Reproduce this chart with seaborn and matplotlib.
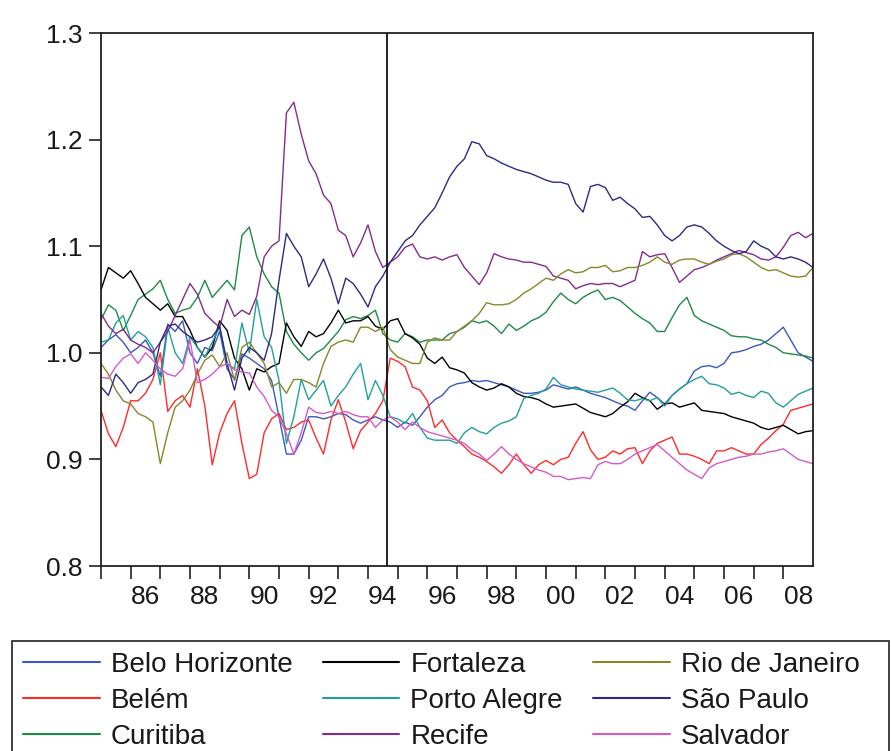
import numpy as np
import pandas as pd
import matplotlib
matplotlib.use("Agg")
import matplotlib.pyplot as plt
from matplotlib.patches import Rectangle
import seaborn as sns

# Quarterly observations, 1985Q1 .. 2009Q1
YEARS = 1985 + np.arange(97) / 4.0

BELO_HORIZONTE = [
    1.005, 1.012, 1.017, 1.010,  # 1985
    1.000, 1.005, 1.012, 1.000,  # 1986
    0.978, 1.027, 1.020, 1.030,  # 1987
    1.000, 0.990, 1.005, 1.002,  # 1988
    1.020, 0.985, 0.975, 0.999,  # 1989
    0.995, 0.990, 0.985, 0.974,  # 1990
    0.940, 0.905, 0.905, 0.918,  # 1991
    0.940, 0.940, 0.938, 0.940,  # 1992
    0.943, 0.942, 0.937, 0.934,  # 1993
    0.937, 0.940, 0.937, 0.935,  # 1994
    0.930, 0.935, 0.932, 0.940,  # 1995
    0.949, 0.956, 0.960, 0.968,  # 1996
    0.971, 0.972, 0.974, 0.973,  # 1997
    0.974, 0.972, 0.970, 0.968,  # 1998
    0.965, 0.962, 0.962, 0.963,  # 1999
    0.965, 0.970, 0.968, 0.966,  # 2000
    0.968, 0.965, 0.962, 0.960,  # 2001
    0.958, 0.955, 0.952, 0.950,  # 2002
    0.946, 0.955, 0.963, 0.958,  # 2003
    0.952, 0.960, 0.966, 0.971,  # 2004
    0.983, 0.987, 0.988, 0.986,  # 2005
    0.990, 1.000, 1.001, 1.003,  # 2006
    1.006, 1.008, 1.012, 1.018,  # 2007
    1.024, 1.012, 1.000, 0.996,  # 2008
    0.992,
]

BELEM = [
    0.946, 0.924, 0.912, 0.930,  # 1985
    0.955, 0.955, 0.962, 0.975,  # 1986
    1.000, 0.945, 0.955, 0.960,  # 1987
    0.949, 0.985, 0.950, 0.895,  # 1988
    0.925, 0.943, 0.955, 0.915,  # 1989
    0.882, 0.886, 0.925, 0.938,  # 1990
    0.943, 0.928, 0.930, 0.935,  # 1991
    0.937, 0.920, 0.905, 0.937,  # 1992
    0.956, 0.935, 0.910, 0.927,  # 1993
    0.935, 0.943, 0.955, 0.995,  # 1994
    0.992, 0.987, 0.968, 0.965,  # 1995
    0.955, 0.930, 0.937, 0.925,  # 1996
    0.918, 0.912, 0.905, 0.902,  # 1997
    0.898, 0.893, 0.887, 0.895,  # 1998
    0.905, 0.895, 0.887, 0.895,  # 1999
    0.899, 0.895, 0.900, 0.902,  # 2000
    0.915, 0.926, 0.909, 0.900,  # 2001
    0.902, 0.908, 0.905, 0.910,  # 2002
    0.911, 0.896, 0.908, 0.915,  # 2003
    0.918, 0.921, 0.905, 0.905,  # 2004
    0.903, 0.900, 0.896, 0.908,  # 2005
    0.908, 0.911, 0.908, 0.905,  # 2006
    0.905, 0.914, 0.920, 0.927,  # 2007
    0.933, 0.946, 0.948, 0.950,  # 2008
    0.952,
]

CURITIBA = [
    1.031, 1.045, 1.040, 1.021,  # 1985
    1.035, 1.050, 1.055, 1.060,  # 1986
    1.068, 1.050, 1.037, 1.040,  # 1987
    1.042, 1.052, 1.068, 1.052,  # 1988
    1.060, 1.068, 1.059, 1.110,  # 1989
    1.118, 1.090, 1.074, 1.062,  # 1990
    1.056, 1.020, 1.008, 1.000,  # 1991
    0.993, 1.000, 1.004, 1.012,  # 1992
    1.020, 1.031, 1.034, 1.032,  # 1993
    1.035, 1.040, 1.018, 1.012,  # 1994
    1.010, 1.018, 1.015, 1.010,  # 1995
    1.012, 1.012, 1.012, 1.018,  # 1996
    1.020, 1.024, 1.030, 1.028,  # 1997
    1.030, 1.025, 1.018, 1.027,  # 1998
    1.021, 1.025, 1.030, 1.033,  # 1999
    1.038, 1.048, 1.056, 1.050,  # 2000
    1.046, 1.052, 1.056, 1.059,  # 2001
    1.050, 1.052, 1.049, 1.043,  # 2002
    1.037, 1.032, 1.028, 1.020,  # 2003
    1.020, 1.033, 1.045, 1.052,  # 2004
    1.035, 1.030, 1.027, 1.024,  # 2005
    1.021, 1.016, 1.015, 1.015,  # 2006
    1.013, 1.012, 1.008, 1.005,  # 2007
    1.000, 0.999, 0.998, 0.997,  # 2008
    0.995,
]

FORTALEZA = [
    1.059, 1.080, 1.075, 1.070,  # 1985
    1.077, 1.065, 1.052, 1.046,  # 1986
    1.040, 1.046, 1.034, 1.034,  # 1987
    1.021, 1.005, 0.996, 1.005,  # 1988
    1.030, 1.021, 0.995, 0.985,  # 1989
    0.965, 0.985, 0.982, 0.987,  # 1990
    0.990, 1.028, 1.015, 1.006,  # 1991
    1.020, 1.015, 1.018, 1.028,  # 1992
    1.040, 1.028, 1.030, 1.030,  # 1993
    1.034, 1.025, 1.022, 1.030,  # 1994
    1.032, 1.018, 1.014, 1.008,  # 1995
    0.995, 0.990, 0.996, 0.986,  # 1996
    0.984, 0.981, 0.972, 0.968,  # 1997
    0.965, 0.967, 0.971, 0.968,  # 1998
    0.962, 0.959, 0.958, 0.956,  # 1999
    0.952, 0.949, 0.950, 0.951,  # 2000
    0.952, 0.948, 0.944, 0.942,  # 2001
    0.940, 0.943, 0.949, 0.954,  # 2002
    0.962, 0.958, 0.955, 0.947,  # 2003
    0.952, 0.953, 0.949, 0.951,  # 2004
    0.953, 0.946, 0.945, 0.944,  # 2005
    0.943, 0.940, 0.938, 0.936,  # 2006
    0.934, 0.930, 0.928, 0.930,  # 2007
    0.932, 0.928, 0.924, 0.926,  # 2008
    0.927,
]

PORTO_ALEGRE = [
    1.010, 1.012, 1.028, 1.035,  # 1985
    1.012, 1.020, 1.015, 1.005,  # 1986
    0.970, 1.024, 1.000, 0.990,  # 1987
    1.015, 1.005, 0.996, 1.010,  # 1988
    1.024, 0.990, 0.985, 1.028,  # 1989
    1.000, 1.050, 1.015, 1.005,  # 1990
    0.974, 0.915, 0.940, 0.975,  # 1991
    0.956, 0.965, 0.974, 0.950,  # 1992
    0.960, 0.968, 0.980, 0.990,  # 1993
    0.956, 0.974, 0.960, 0.940,  # 1994
    0.938, 0.934, 0.943, 0.930,  # 1995
    0.920, 0.918, 0.918, 0.918,  # 1996
    0.915, 0.925, 0.930, 0.926,  # 1997
    0.924, 0.930, 0.934, 0.936,  # 1998
    0.940, 0.957, 0.960, 0.962,  # 1999
    0.966, 0.977, 0.970, 0.968,  # 2000
    0.966, 0.965, 0.964, 0.963,  # 2001
    0.965, 0.967, 0.962, 0.956,  # 2002
    0.955, 0.957, 0.955, 0.958,  # 2003
    0.950, 0.960, 0.966, 0.971,  # 2004
    0.975, 0.978, 0.971, 0.970,  # 2005
    0.967, 0.961, 0.963, 0.960,  # 2006
    0.958, 0.964, 0.962, 0.953,  # 2007
    0.949, 0.955, 0.961, 0.964,  # 2008
    0.967,
]

RECIFE = [
    1.037, 1.025, 1.018, 1.022,  # 1985
    1.012, 1.008, 1.005, 1.000,  # 1986
    1.010, 1.020, 1.035, 1.050,  # 1987
    1.065, 1.055, 1.037, 1.030,  # 1988
    1.024, 1.050, 1.034, 1.040,  # 1989
    1.036, 1.053, 1.090, 1.100,  # 1990
    1.105, 1.225, 1.235, 1.205,  # 1991
    1.180, 1.168, 1.148, 1.140,  # 1992
    1.115, 1.110, 1.090, 1.103,  # 1993
    1.120, 1.095, 1.080, 1.085,  # 1994
    1.090, 1.099, 1.102, 1.090,  # 1995
    1.088, 1.090, 1.087, 1.090,  # 1996
    1.092, 1.080, 1.072, 1.064,  # 1997
    1.075, 1.093, 1.090, 1.088,  # 1998
    1.087, 1.085, 1.085, 1.083,  # 1999
    1.081, 1.072, 1.070, 1.068,  # 2000
    1.060, 1.063, 1.065, 1.064,  # 2001
    1.065, 1.065, 1.062, 1.065,  # 2002
    1.068, 1.095, 1.090, 1.092,  # 2003
    1.093, 1.080, 1.066, 1.072,  # 2004
    1.078, 1.080, 1.083, 1.087,  # 2005
    1.090, 1.093, 1.096, 1.094,  # 2006
    1.092, 1.088, 1.087, 1.090,  # 2007
    1.099, 1.110, 1.113, 1.108,  # 2008
    1.112,
]

RIO_DE_JANEIRO = [
    0.990, 0.980, 0.965, 0.955,  # 1985
    0.952, 0.943, 0.940, 0.935,  # 1986
    0.896, 0.925, 0.949, 0.955,  # 1987
    0.965, 0.980, 0.993, 0.998,  # 1988
    0.987, 1.000, 0.974, 1.005,  # 1989
    1.010, 1.000, 0.990, 0.968,  # 1990
    0.972, 0.962, 0.975, 0.975,  # 1991
    0.972, 0.968, 0.990, 1.006,  # 1992
    1.010, 1.012, 1.010, 1.024,  # 1993
    1.024, 1.020, 1.024, 1.003,  # 1994
    0.996, 0.993, 0.990, 0.990,  # 1995
    1.010, 1.014, 1.012, 1.012,  # 1996
    1.020, 1.025, 1.030, 1.037,  # 1997
    1.047, 1.045, 1.045, 1.046,  # 1998
    1.050, 1.056, 1.060, 1.065,  # 1999
    1.070, 1.068, 1.074, 1.078,  # 2000
    1.075, 1.076, 1.080, 1.080,  # 2001
    1.082, 1.076, 1.077, 1.080,  # 2002
    1.080, 1.082, 1.085, 1.090,  # 2003
    1.085, 1.083, 1.087, 1.088,  # 2004
    1.088, 1.085, 1.083, 1.086,  # 2005
    1.088, 1.092, 1.093, 1.090,  # 2006
    1.085, 1.080, 1.077, 1.078,  # 2007
    1.075, 1.072, 1.071, 1.072,  # 2008
    1.080,
]

SAO_PAULO = [
    0.968, 0.960, 0.980, 0.972,  # 1985
    0.962, 0.972, 0.975, 0.980,  # 1986
    1.010, 1.025, 1.027, 1.020,  # 1987
    1.015, 1.010, 1.012, 1.015,  # 1988
    1.025, 0.990, 0.965, 0.995,  # 1989
    1.005, 1.000, 0.993, 1.018,  # 1990
    1.068, 1.112, 1.100, 1.090,  # 1991
    1.062, 1.074, 1.088, 1.070,  # 1992
    1.046, 1.070, 1.065, 1.055,  # 1993
    1.043, 1.062, 1.072, 1.085,  # 1994
    1.095, 1.105, 1.110, 1.120,  # 1995
    1.128, 1.136, 1.150, 1.165,  # 1996
    1.175, 1.182, 1.198, 1.196,  # 1997
    1.185, 1.182, 1.178, 1.175,  # 1998
    1.172, 1.170, 1.168, 1.165,  # 1999
    1.162, 1.160, 1.160, 1.158,  # 2000
    1.140, 1.132, 1.156, 1.158,  # 2001
    1.155, 1.143, 1.146, 1.140,  # 2002
    1.135, 1.127, 1.128, 1.120,  # 2003
    1.110, 1.105, 1.110, 1.118,  # 2004
    1.120, 1.118, 1.112, 1.105,  # 2005
    1.100, 1.096, 1.093, 1.095,  # 2006
    1.105, 1.100, 1.097, 1.090,  # 2007
    1.088, 1.090, 1.088, 1.085,  # 2008
    1.080,
]

SALVADOR = [
    0.977, 0.976, 0.987, 0.995,  # 1985
    0.999, 0.990, 1.000, 0.993,  # 1986
    0.985, 0.980, 0.978, 0.985,  # 1987
    1.012, 0.972, 0.975, 0.980,  # 1988
    0.987, 0.990, 0.984, 0.982,  # 1989
    0.981, 0.968, 0.959, 0.946,  # 1990
    0.940, 0.924, 0.905, 0.925,  # 1991
    0.949, 0.944, 0.943, 0.945,  # 1992
    0.943, 0.945, 0.942, 0.940,  # 1993
    0.940, 0.930, 0.937, 0.940,  # 1994
    0.935, 0.928, 0.935, 0.930,  # 1995
    0.926, 0.924, 0.922, 0.920,  # 1996
    0.918, 0.915, 0.909, 0.905,  # 1997
    0.899, 0.905, 0.912, 0.905,  # 1998
    0.900, 0.896, 0.893, 0.890,  # 1999
    0.888, 0.884, 0.884, 0.881,  # 2000
    0.882, 0.883, 0.882, 0.895,  # 2001
    0.898, 0.896, 0.896, 0.900,  # 2002
    0.905, 0.908, 0.911, 0.914,  # 2003
    0.908, 0.902, 0.896, 0.890,  # 2004
    0.886, 0.882, 0.892, 0.896,  # 2005
    0.898, 0.900, 0.902, 0.903,  # 2006
    0.905, 0.905, 0.907, 0.908,  # 2007
    0.910, 0.905, 0.900, 0.898,  # 2008
    0.896,
]

CITIES = ["Belo Horizonte", "Belém", "Curitiba", "Fortaleza", "Porto Alegre",
          "Recife", "Rio de Janeiro", "São Paulo", "Salvador"]
SERIES = [BELO_HORIZONTE, BELEM, CURITIBA, FORTALEZA, PORTO_ALEGRE,
          RECIFE, RIO_DE_JANEIRO, SAO_PAULO, SALVADOR]
COLORS = {
    "Belo Horizonte": "#3a58c0",
    "Belém": "#ff2a2a",
    "Curitiba": "#1f8a45",
    "Fortaleza": "#000000",
    "Porto Alegre": "#21a09a",
    "Recife": "#862a8c",
    "Rio de Janeiro": "#87872a",
    "São Paulo": "#2b2b86",
    "Salvador": "#d45ac8",
}
REAL_PLAN = 1994.625   # vertical marker line
X_LABEL_YEARS = list(range(1986, 2009, 2))
Y_TICKS = [0.8, 0.9, 1.0, 1.1, 1.2, 1.3]

df = pd.DataFrame({
    "t": np.tile(YEARS, len(CITIES)),
    "city": np.repeat(CITIES, len(YEARS)),
    "value": np.concatenate([np.asarray(s, dtype=float) for s in SERIES]),
})

sns.set_theme(style="white")
plt.rcParams["font.family"] = ["Liberation Sans", "DejaVu Sans"]
TXT = "#1a1a1a"

fig = plt.figure(figsize=(8.91, 7.51), dpi=100)
W, H = 891, 751
ax = fig.add_axes([101 / W, 1 - 566 / H, (813 - 101) / W, (566 - 33) / H])

sns.lineplot(data=df, x="t", y="value", hue="city", hue_order=CITIES,
             palette=COLORS, estimator=None, sort=False, linewidth=1.0, ax=ax)
handles, labels = ax.get_legend_handles_labels()
if ax.get_legend() is not None:
    ax.get_legend().remove()

ax.axvline(REAL_PLAN, color="#111111", lw=1.3, zorder=5)

ax.set_xlim(1985, 2009)
ax.set_ylim(0.8, 1.3)
ax.set_xlabel("")
ax.set_ylabel("")

ax.set_xticks(list(range(1985, 2009)))
ax.set_xticklabels([])
ax.set_xticks([y + 0.5 for y in X_LABEL_YEARS], minor=True)
ax.set_xticklabels([f"{y % 100:02d}" for y in X_LABEL_YEARS], minor=True)
ax.tick_params(axis="x", which="major", direction="out", length=9, width=1.2,
               color="#222222", bottom=True)
ax.tick_params(axis="x", which="minor", length=0, labelsize=19, pad=14,
               labelcolor=TXT, bottom=True)
ax.set_yticks(Y_TICKS)
ax.set_yticklabels([f"{v:.1f}" for v in Y_TICKS])
ax.tick_params(axis="y", direction="out", length=9, width=1.2, color="#222222",
               labelsize=19, pad=4, labelcolor=TXT, left=True)

for sp in ax.spines.values():
    sp.set_visible(True)
    sp.set_color("#222222")
    sp.set_linewidth(1.3)

# legend box: fixed-width frame like the source, running off the bottom edge
fig.patches.append(Rectangle((12 / W, -20 / H), (889 - 12) / W, (20 + 751 - 641) / H,
                             transform=fig.transFigure, facecolor="white",
                             edgecolor="#333333", linewidth=1.3, zorder=1))
leg = fig.legend(handles, labels, loc="upper left",
                 bbox_to_anchor=(12 / W, 1 - 641 / H), ncol=3,
                 frameon=False, fontsize=20,
                 handlelength=2.75, handletextpad=0.4, columnspacing=1.1,
                 labelspacing=0.36, borderpad=0.4, borderaxespad=0)
leg.set_zorder(3)
for h in leg.legend_handles:
    h.set_linewidth(1.5)
for t in leg.get_texts():
    t.set_color(TXT)

fig.savefig("out.png", dpi=100)
